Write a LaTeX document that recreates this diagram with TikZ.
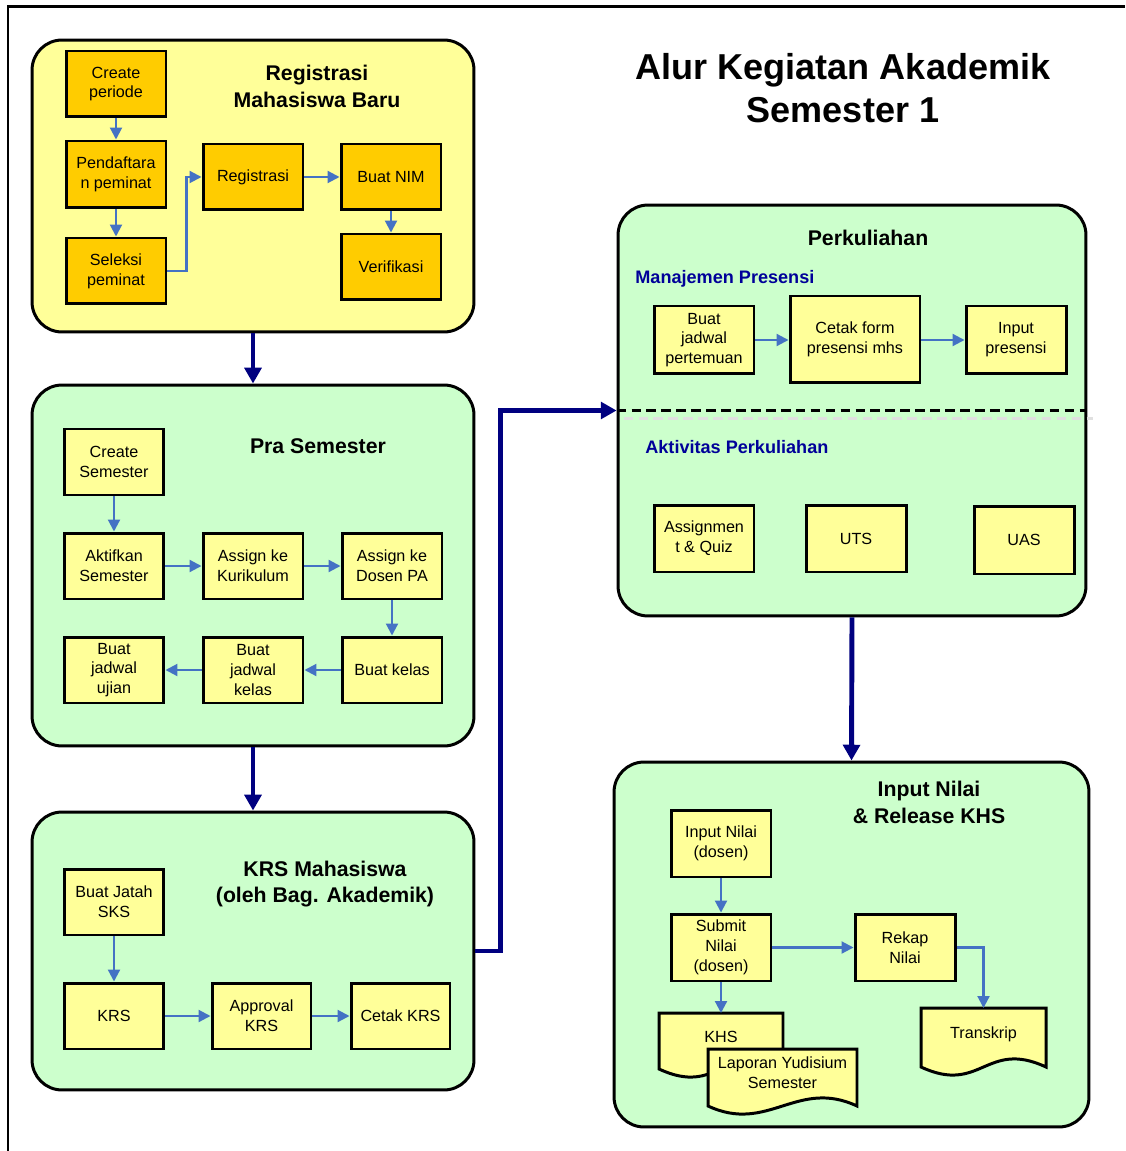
\documentclass[tikz,border=0pt]{standalone}
\usepackage{fontspec}
\setmainfont{Liberation Sans}
\usepackage{tikz}
\usetikzlibrary{arrows.meta}
\definecolor{boxyellow}{RGB}{255,255,153}
\definecolor{boxorange}{RGB}{255,204,0}
\definecolor{groupgreen}{RGB}{204,255,204}
\definecolor{flowblue}{RGB}{68,114,196}
\definecolor{navyline}{RGB}{0,0,128}
\definecolor{labelblue}{RGB}{0,0,153}
\tikzstyle{GroupYellow}=[shape=rectangle, rounded corners=0.6cm, fill=boxyellow, draw=black, line width=1.7pt]
\tikzstyle{GroupGreen}=[shape=rectangle, rounded corners=0.6cm, fill=groupgreen, draw=black, line width=1.7pt]
\tikzstyle{OrangeBox}=[shape=rectangle, minimum width=2cm, minimum height=1.32cm, fill=boxorange, draw=black, line width=1.7pt, align=center, inner sep=1pt, font=\fontsize{9.2}{11.3}\selectfont]
\tikzstyle{YellowBox}=[OrangeBox, fill=boxyellow]
\tikzstyle{DocBox}=[shape=rectangle, outer sep=0pt, inner sep=1pt, text depth=0.18cm, align=center, font=\fontsize{9.2}{11.3}\selectfont]
\tikzstyle{DocLine}=[fill=boxyellow, draw=black, line width=1.7pt]
\tikzstyle{Heading}=[align=center, font=\bfseries\fontsize{12.1}{15.3}\selectfont]
\tikzstyle{SubHeading}=[anchor=west, inner sep=0pt, text=labelblue, font=\bfseries\fontsize{10.3}{12.4}\selectfont]
\tikzstyle{MainTitle}=[align=center, font=\bfseries\fontsize{20.5}{24.4}\selectfont]
\tikzstyle{flow}=[draw=flowblue, line width=1.2pt, -{Triangle[width=6.8pt,length=6.8pt]}]
\tikzstyle{bigflow}=[draw=navyline, line width=2.8pt, -{Triangle[width=9.5pt,length=9pt]}]
\tikzstyle{Divider}=[draw=black, line width=1.7pt, dash pattern=on 5.5pt off 3pt]
\tikzstyle{DividerShadow}=[draw=black!12, line width=1.7pt, dash pattern=on 5.5pt off 3pt]
\newcommand{\docshape}[1]{\draw[style=DocLine] (#1.south west) .. controls +(60,28) and +(-60,-28) .. (#1.south east) -- (#1.north east) -- (#1.north west) -- cycle;}
\pgfdeclarelayer{grouplayer}
\pgfdeclarelayer{doclayer}
\pgfsetlayers{grouplayer, doclayer, main}

\begin{document}
\begin{tikzpicture}[x=0.02cm, y=-0.02cm]
	\useasboundingbox (0,0) rectangle (1125,1151);
	\draw [line width=1.7pt] (8,1151) -- (8,7) -- (1125,7);

	\begin{pgfonlayer}{grouplayer}
		\node [style=GroupYellow, minimum width=8.84cm, minimum height=5.84cm] (regGroup) at (253,186) {};
		\node [style=GroupGreen, minimum width=8.84cm, minimum height=7.22cm] (praGroup) at (253,565.5) {};
		\node [style=GroupGreen, minimum width=8.84cm, minimum height=5.56cm] (krsGroup) at (253,951) {};
		\node [style=GroupGreen, minimum width=9.36cm, minimum height=8.22cm] (kuliahGroup) at (852,410.5) {};
		\node [style=GroupGreen, minimum width=9.5cm, minimum height=7.3cm] (nilaiGroup) at (851.5,944.5) {};
	\end{pgfonlayer}

	% titles
	\node [style=MainTitle] (mainTitle) at (843,88) {Alur Kegiatan Akademik\\Semester 1};
	\node [style=Heading] (regTitle) at (317,86) {Registrasi\\Mahasiswa Baru};
	\node [style=Heading] (praTitle) at (318,446) {Pra Semester};
	\node [style=Heading] (krsTitle) at (325,884) {KRS Mahasiswa\\(oleh Bag. Akademik)};
	\node [style=Heading] (kuliahTitle) at (868,238) {Perkuliahan};
	\node [style=Heading] (nilaiTitle) at (929,802) {Input Nilai\\\& Release KHS};
	\node [style=SubHeading] (presensiLabel) at (635,279) {Manajemen Presensi};
	\node [style=SubHeading] (aktivitasLabel) at (645,447) {Aktivitas Perkuliahan};

	% registrasi mahasiswa baru
	\node [style=OrangeBox] (createPeriode) at (116,84) {Create\\periode};
	\node [style=OrangeBox, minimum height=1.34cm] (pendaftaran) at (116,174.5) {Pendaftara\\n peminat};
	\node [style=OrangeBox] (seleksi) at (116,271) {Seleksi\\peminat};
	\node [style=OrangeBox] (registrasi) at (253,177) {Registrasi};
	\node [style=OrangeBox] (buatNim) at (391,177) {Buat NIM};
	\node [style=OrangeBox] (verifikasi) at (391,267) {Verifikasi};

	% pra semester
	\node [style=YellowBox] (createSemester) at (114,462) {Create\\Semester};
	\node [style=YellowBox] (aktifkan) at (114,566) {Aktifkan\\Semester};
	\node [style=YellowBox] (assignKurikulum) at (253,566) {Assign ke\\Kurikulum};
	\node [style=YellowBox] (assignDosen) at (392,566) {Assign ke\\Dosen PA};
	\node [style=YellowBox] (buatKelas) at (392,670) {Buat kelas};
	\node [style=YellowBox] (jadwalKelas) at (253,670) {Buat\\jadwal\\kelas};
	\node [style=YellowBox] (jadwalUjian) at (114,670) {Buat\\jadwal\\ujian};

	% krs mahasiswa
	\node [style=YellowBox] (jatahSks) at (114,902) {Buat Jatah\\SKS};
	\node [style=YellowBox] (krs) at (114,1016) {KRS};
	\node [style=YellowBox, minimum width=1.98cm] (approval) at (261.5,1016) {Approval\\KRS};
	\node [style=YellowBox, minimum width=1.98cm] (cetakKrs) at (400.5,1016) {Cetak KRS};

	% perkuliahan
	\node [style=YellowBox, minimum height=1.36cm] (jadwalPertemuan) at (704,340) {Buat\\jadwal\\pertemuan};
	\node [style=YellowBox, minimum width=2.6cm, minimum height=1.74cm] (cetakForm) at (855,339.5) {Cetak form\\presensi mhs};
	\node [style=YellowBox, minimum height=1.36cm] (inputPresensi) at (1016,340) {Input\\presensi};
	\node [style=YellowBox, minimum height=1.34cm] (assignment) at (704,538.5) {Assignmen\\t \& Quiz};
	\node [style=YellowBox, minimum height=1.34cm] (uts) at (856,538.5) {UTS};
	\node [style=YellowBox, minimum height=1.36cm] (uas) at (1024,540) {UAS};

	% input nilai & release khs
	\node [style=YellowBox, minimum height=1.34cm] (inputNilai) at (721,843.5) {Input Nilai\\(dosen)};
	\node [style=YellowBox, minimum height=1.34cm] (submitNilai) at (721,947.5) {Submit\\Nilai\\(dosen)};
	\node [style=YellowBox, minimum height=1.34cm] (rekapNilai) at (905,947.5) {Rekap\\Nilai};
	\node [style=DocBox, minimum width=2.48cm, minimum height=1.12cm] (khs) at (721,1041) {KHS};
	\node [style=DocBox, minimum width=2.98cm, minimum height=1.14cm] (yudisium) at (782.5,1077.5) {Laporan Yudisium\\Semester};
	\node [style=DocBox, minimum width=2.5cm, minimum height=1.18cm] (transkrip) at (983.5,1037.5) {Transkrip};

	\begin{pgfonlayer}{doclayer}
		\docshape{khs}
		\docshape{yudisium}
		\docshape{transkrip}
	\end{pgfonlayer}

	\draw [style=Divider] (kuliahGroup.west) -- (kuliahGroup.east);
	\draw [style=DividerShadow] ([shift={(7,8)}]kuliahGroup.west) -- ([shift={(6,8)}]kuliahGroup.east);

	% flows
	\draw [style=flow] (createPeriode) to (pendaftaran);
	\draw [style=flow] (pendaftaran) to (seleksi);
	\draw [style=flow] (seleksi.east) -- ++(19,0) |- (registrasi.west);
	\draw [style=flow] (registrasi) to (buatNim);
	\draw [style=flow] (buatNim) to (verifikasi);

	\draw [style=flow] (createSemester) to (aktifkan);
	\draw [style=flow] (aktifkan) to (assignKurikulum);
	\draw [style=flow] (assignKurikulum) to (assignDosen);
	\draw [style=flow] (assignDosen) to (buatKelas);
	\draw [style=flow] (buatKelas) to (jadwalKelas);
	\draw [style=flow] (jadwalKelas) to (jadwalUjian);

	\draw [style=flow] (jatahSks) to (krs);
	\draw [style=flow] (krs) to (approval);
	\draw [style=flow] (approval) to (cetakKrs);

	\draw [style=flow] (jadwalPertemuan.east) to (jadwalPertemuan.east -| cetakForm.west);
	\draw [style=flow] (cetakForm.east |- inputPresensi.west) to (inputPresensi.west);

	\draw [style=flow] (inputNilai) to (submitNilai);
	\draw [style=flow] (submitNilai) to (khs.north);
	\draw [style=flow] (submitNilai) to (rekapNilai);
	\draw [style=flow] (rekapNilai.east) -| (transkrip.north);

	% between groups
	\draw [style=bigflow] (regGroup.south) to (praGroup.north);
	\draw [style=bigflow] (praGroup.south) to (krsGroup.north);
	\draw [style=bigflow] (krsGroup.east) -- ++(25,0) |- (kuliahGroup.west);
	\draw [style=bigflow] (kuliahGroup.south) to (nilaiGroup.north);
\end{tikzpicture}
\end{document}
